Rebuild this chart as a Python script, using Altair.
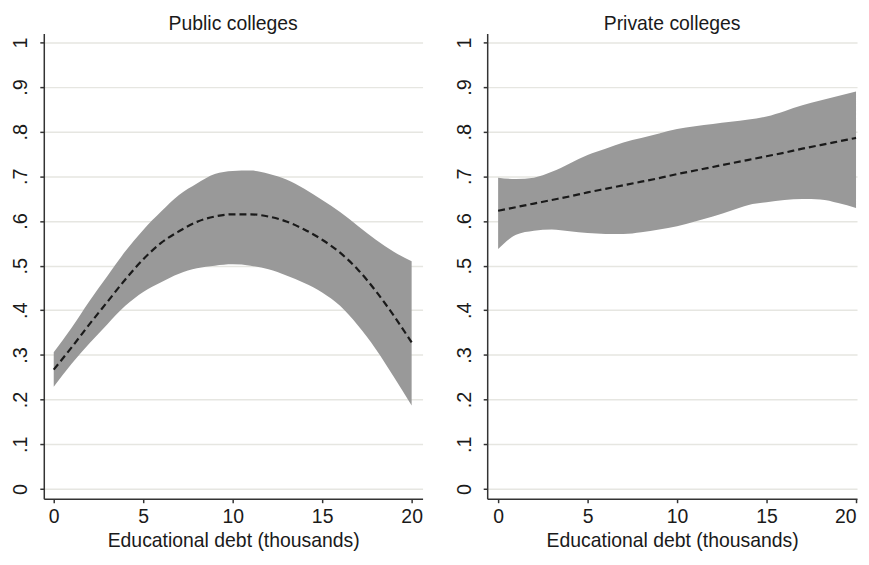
import altair as alt
import pandas as pd

# ---- data ----
pub_x = [0, 1, 2, 3, 4, 5, 6, 7, 8, 9, 10, 11, 12, 13, 14, 15, 16, 17, 18, 19, 20]
pub_mean = [0.267, 0.317, 0.369, 0.419, 0.469, 0.514, 0.551, 0.577, 0.598, 0.610, 0.615,
            0.615, 0.610, 0.599, 0.581, 0.558, 0.529, 0.491, 0.443, 0.388, 0.328]
pub_upper = [0.306, 0.361, 0.421, 0.477, 0.532, 0.580, 0.621, 0.658, 0.684, 0.705, 0.712,
             0.713, 0.706, 0.693, 0.672, 0.647, 0.620, 0.589, 0.558, 0.531, 0.510]
pub_lower = [0.229, 0.280, 0.326, 0.369, 0.410, 0.441, 0.463, 0.482, 0.494, 0.500, 0.503,
             0.500, 0.492, 0.478, 0.461, 0.440, 0.410, 0.366, 0.313, 0.251, 0.187]

priv_x = [0, 1, 2, 3, 4, 5, 6, 7, 8, 9, 10, 11, 12, 13, 14, 15, 16, 17, 18, 19, 20]
priv_mean = [0.623, 0.631, 0.639, 0.647, 0.655, 0.664, 0.672, 0.680, 0.688, 0.696, 0.705,
             0.713, 0.721, 0.729, 0.737, 0.745, 0.753, 0.762, 0.770, 0.778, 0.786]
priv_upper = [0.697, 0.694, 0.697, 0.710, 0.729, 0.748, 0.762, 0.776, 0.786, 0.796, 0.806,
              0.812, 0.817, 0.822, 0.827, 0.834, 0.846, 0.859, 0.870, 0.880, 0.890]
priv_lower = [0.537, 0.569, 0.578, 0.581, 0.577, 0.573, 0.571, 0.571, 0.575, 0.581, 0.588,
              0.599, 0.610, 0.623, 0.636, 0.642, 0.647, 0.649, 0.648, 0.640, 0.629]

y_ticks = [0, 0.1, 0.2, 0.3, 0.4, 0.5, 0.6, 0.7, 0.8, 0.9, 1]
x_ticks = [0, 5, 10, 15, 20]
titles = ["Public colleges", "Private colleges"]
x_title = "Educational debt (thousands)"

FONT = "Liberation Sans, Arial, Helvetica"


def panel(xs, mean, lo, hi, title, xdom, width, flush):
    df = pd.DataFrame({"x": xs, "mean": mean, "lo": lo, "hi": hi})
    axis_kw = dict(values=x_ticks, grid=False, title=x_title,
                   labelFont=FONT, labelFontSize=19.5, titleFont=FONT,
                   titleFontSize=19.5, titleFontWeight="normal", labelPadding=5,
                   titlePadding=6)
    if flush:
        axis_kw["labelFlush"] = 5
    xenc = alt.X("x:Q", scale=alt.Scale(domain=xdom, nice=False, zero=False),
                 axis=alt.Axis(**axis_kw))
    yscale = alt.Scale(domain=[-0.022, 1.02], nice=False, zero=False)
    yaxis = alt.Axis(values=y_ticks, title=None, labelAngle=270, labelFont=FONT,
                     labelFontSize=20, labelPadding=9,
                     labelExpr="replace(format(datum.value, '.1~f'), '0.', '.')")
    band = alt.Chart(df).mark_area(color="#999999", opacity=1, interpolate="monotone").encode(
        x=xenc,
        y=alt.Y("lo:Q", scale=yscale, axis=yaxis),
        y2="hi:Q",
    )
    line = alt.Chart(df).mark_line(color="#1a1a1a", strokeDash=[7, 4], strokeWidth=2.2,
                                   interpolate="monotone").encode(
        x=xenc,
        y=alt.Y("mean:Q", scale=yscale, axis=yaxis),
    )
    return alt.layer(band, line).properties(
        width=width, height=468,
        title=alt.TitleParams(title, font=FONT, fontSize=19.5, fontWeight="normal",
                              color="#1a1a1a", offset=-1),
    )


left = panel(pub_x, pub_mean, pub_lower, pub_upper, titles[0], [-10 / 18, 371 / 18], 381, False)
right = panel(priv_x, priv_mean, priv_lower, priv_upper, titles[1], [-11 / 18, 361 / 18], 372, True)

chart = alt.hconcat(left, right, spacing=31).properties(
    padding={"left": 2, "top": 4, "right": 0, "bottom": 0}
).configure_view(stroke=None).configure_axis(
    domainColor="#333333", domainWidth=1.5, tickColor="#333333", tickWidth=1.5,
    tickSize=4, gridColor="#e6e6e1", gridWidth=1.5, labelColor="#1a1a1a",
    titleColor="#1a1a1a",
)

chart.save("out.html", embed_options={"renderer": "svg", "actions": False})
